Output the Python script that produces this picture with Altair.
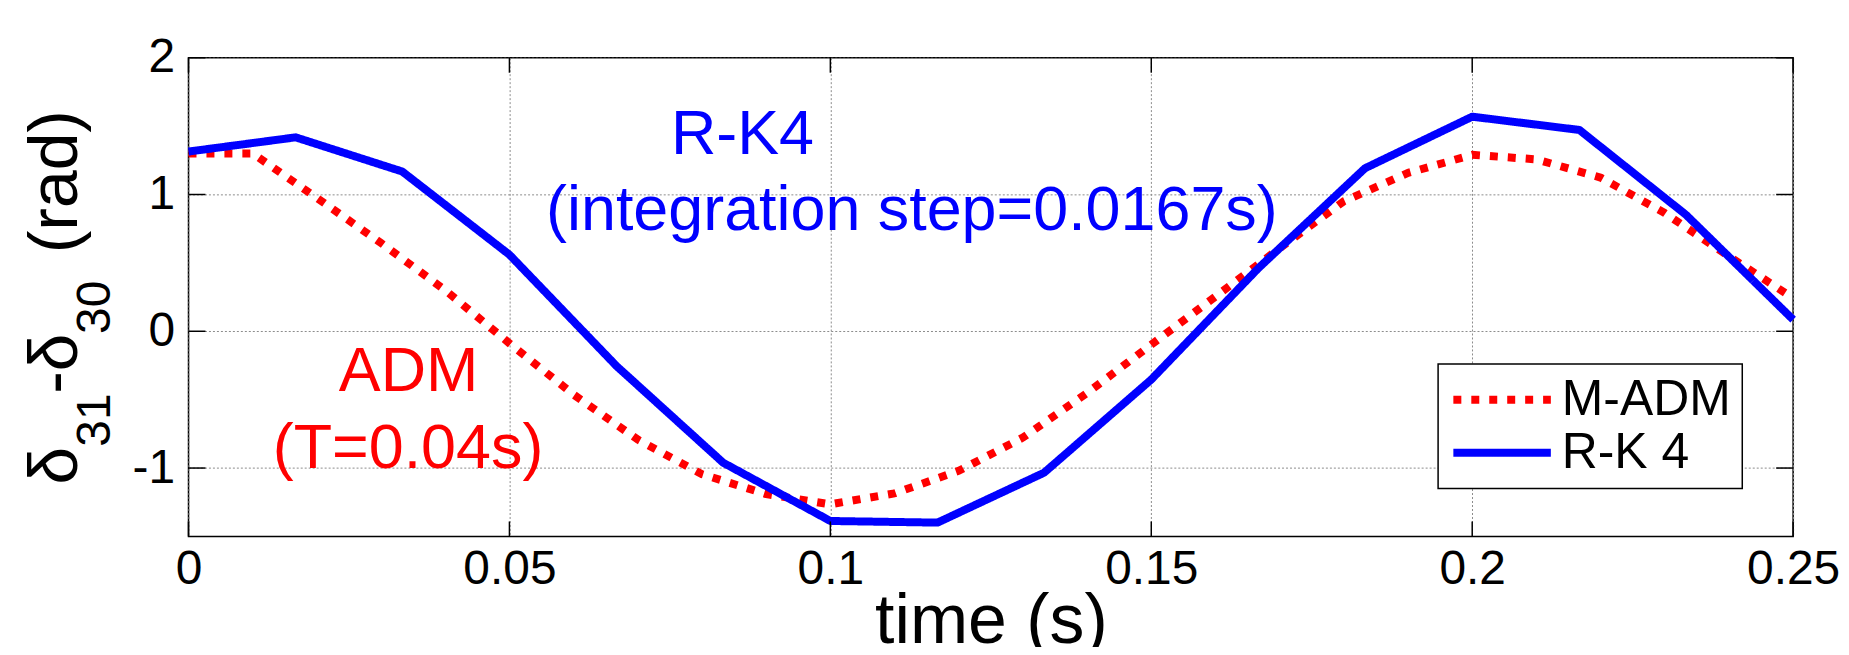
import altair as alt
import pandas as pd

# ---- data ----
rk_time = [0.0, 0.0167, 0.0333, 0.05, 0.0667, 0.0833, 0.1, 0.1167, 0.1333,
           0.15, 0.1667, 0.1833, 0.2, 0.2167, 0.2333, 0.25]
rk_value = [1.314, 1.418, 1.168, 0.56, -0.255, -0.961, -1.387, -1.399, -1.034,
            -0.353, 0.462, 1.192, 1.569, 1.472, 0.852, 0.085]

adm_time = [0.0, 0.01, 0.02, 0.03, 0.04, 0.05, 0.06, 0.07, 0.08, 0.09, 0.1,
            0.11, 0.12, 0.13, 0.14, 0.15, 0.16, 0.17, 0.18, 0.19, 0.2,
            0.21, 0.22, 0.23, 0.24, 0.25]
adm_value = [1.30, 1.30, 0.975, 0.645, 0.30, -0.088, -0.463, -0.792, -1.045,
             -1.191, -1.265, -1.185, -1.02, -0.777, -0.451, -0.098, 0.254,
             0.607, 0.951, 1.158, 1.29, 1.257, 1.124, 0.864, 0.548, 0.243]

series_names = ["M-ADM", "R-K 4"]
series_colors = ["#ff0000", "#0000ff"]

x_ticks = [0, 0.05, 0.1, 0.15, 0.2, 0.25]
y_ticks = [-1, 0, 1, 2]

rk_note = ["R-K4", "(integration step=0.0167s)"]
rk_note_t = [0.0863, 0.1127]
rk_note_v = [1.294, 0.742]
adm_note = ["ADM", "(T=0.04s)"]
adm_note_t = [0.0343, 0.0342]
adm_note_v = [-0.438, -0.998]

# y-axis title pieces (main text and subscripts)
ytitle_main = ["δ", "-δ", "(rad)"]
ytitle_sub = ["31", "30"]

FONT = "Liberation Sans"

df = pd.concat([
    pd.DataFrame({"t": adm_time, "v": adm_value, "series": series_names[0]}),
    pd.DataFrame({"t": rk_time, "v": rk_value, "series": series_names[1]}),
], ignore_index=True)

x_scale = alt.Scale(domain=[0, 0.25], nice=False, zero=False)
y_scale = alt.Scale(domain=[-1.5, 2], nice=False, zero=False)

x_axis = alt.Axis(values=x_ticks, labelExpr="toString(datum.value)",
                  title="time (s)", titleFontSize=70, titleY=106,
                  titleBaseline="alphabetic", labelPadding=9, labelFlush=False)
y_axis = alt.Axis(values=y_ticks, labelExpr="toString(datum.value)",
                  title=None, labelPadding=14)

lines = alt.Chart(df).mark_line(strokeWidth=8, strokeCap="butt", strokeJoin="round").encode(
    x=alt.X("t:Q", scale=x_scale, axis=x_axis),
    y=alt.Y("v:Q", scale=y_scale, axis=y_axis),
    color=alt.Color("series:N", scale=alt.Scale(domain=series_names, range=series_colors),
                    legend=alt.Legend(title=None)),
    strokeDash=alt.StrokeDash("series:N",
                              scale=alt.Scale(domain=series_names, range=[[8, 10], [1, 0]]),
                              legend=alt.Legend(title=None)),
    detail="series:N",
)

rk_df = pd.DataFrame({"label": rk_note, "t": rk_note_t, "v": rk_note_v})
adm_df = pd.DataFrame({"label": adm_note, "t": adm_note_t, "v": adm_note_v})

rk_text = alt.Chart(rk_df).mark_text(
    font=FONT, fontSize=63, color="#0000ff", align="center", baseline="alphabetic"
).encode(x=alt.X("t:Q", scale=x_scale, axis=x_axis),
         y=alt.Y("v:Q", scale=y_scale, axis=y_axis), text="label:N")

adm_text = alt.Chart(adm_df).mark_text(
    font=FONT, fontSize=63, color="#ff0000", align="center", baseline="alphabetic"
).encode(x=alt.X("t:Q", scale=x_scale, axis=x_axis),
         y=alt.Y("v:Q", scale=y_scale, axis=y_axis), text="label:N")

xt = pd.DataFrame({"t": x_ticks})
yt = pd.DataFrame({"v": y_ticks})

xt_bottom = alt.Chart(xt).mark_rule(color="black", strokeWidth=1.5).encode(
    x=alt.X("t:Q", scale=x_scale, axis=x_axis), y=alt.value(480), y2=alt.value(465))
xt_top = alt.Chart(xt).mark_rule(color="black", strokeWidth=1.5).encode(
    x=alt.X("t:Q", scale=x_scale, axis=x_axis), y=alt.value(0), y2=alt.value(15))
yt_left = alt.Chart(yt).mark_rule(color="black", strokeWidth=1.5).encode(
    y=alt.Y("v:Q", scale=y_scale, axis=y_axis), x=alt.value(0), x2=alt.value(17))
yt_right = alt.Chart(yt).mark_rule(color="black", strokeWidth=1.5).encode(
    y=alt.Y("v:Q", scale=y_scale, axis=y_axis), x=alt.value(1609), x2=alt.value(1592))

# y-axis title, written as rotated text pieces so the subscripts can be large
def ypiece(txt, size, xpos, ypos):
    return alt.Chart(pd.DataFrame({"s": [txt]})).mark_text(
        font=FONT, fontSize=size, color="black", angle=270,
        align="left", baseline="alphabetic"
    ).encode(text="s:N", x=alt.value(xpos), y=alt.value(ypos))

ytitle = [
    ypiece(ytitle_main[0], 68, -112, 428),
    ypiece(ytitle_sub[0], 48, -79, 390),
    ypiece(ytitle_main[1], 68, -112, 337),
    ypiece(ytitle_sub[1], 48, -79, 277),
    ypiece(ytitle_main[2], 68, -112, 196),
]

chart = alt.layer(lines, rk_text, adm_text, xt_bottom, xt_top, yt_left, yt_right,
                  *ytitle).properties(
    width=1609, height=480,
    padding={"left": 181, "top": 49, "right": 48, "bottom": 110},
    autosize=alt.AutoSizeParams(type="none"),
).configure_view(
    stroke="black", strokeWidth=1.5
).configure_axis(
    grid=True, gridColor="#8c8c8c", gridDash=[2, 2], gridWidth=1,
    domain=False, ticks=False, tickSize=0,
    labelFont=FONT, labelFontSize=48, labelColor="black",
    titleFont=FONT, titleFontWeight="normal", titleColor="black",
).configure_legend(
    orient="none", legendX=1253, legendY=307,
    symbolType="M-1.8,0H6.7", symbolSize=529, symbolStrokeWidth=8,
    labelFont=FONT, labelFontSize=50, labelColor="black", labelOffset=63,
    padding=11, strokeColor="black", strokeWidth=1.5, fillColor="white", cornerRadius=0,
    rowPadding=3, labelLimit=0,
)

chart.save("out.html", embed_options={"renderer": "svg", "actions": False})
